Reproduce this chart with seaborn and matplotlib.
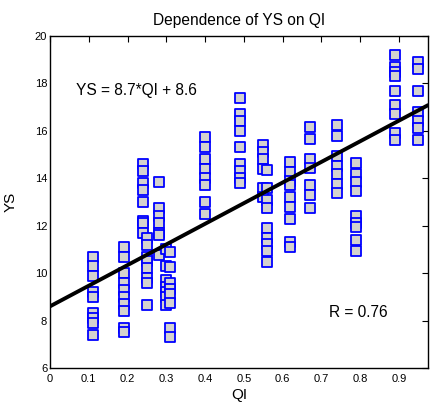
import matplotlib
matplotlib.use("Agg")
import matplotlib.pyplot as plt
import seaborn as sns
import pandas as pd
import numpy as np

# Data: QI column positions and YS values in each column
qi_levels = [0.11, 0.19, 0.24, 0.25, 0.28, 0.30, 0.31, 0.40, 0.49, 0.55, 0.56,
             0.62, 0.67, 0.74, 0.79, 0.89, 0.95]
ys_011 = [10.7, 10.3, 9.9, 9.2, 9.0, 8.3, 8.1, 7.9, 7.4]
ys_019 = [11.1, 10.7, 10.0, 9.6, 9.3, 9.0, 8.7, 8.4, 7.7, 7.5]
ys_024 = [14.6, 14.3, 13.8, 13.5, 13.0, 12.2, 12.1, 11.7]
ys_025 = [11.5, 11.2, 10.7, 10.5, 10.2, 9.8, 9.6, 8.65]
ys_028 = [13.85, 12.75, 12.4, 12.1, 11.7, 11.6, 10.75]
ys_030 = [11.0, 10.3, 9.7, 9.4, 9.2, 9.0, 8.65]
ys_031 = [10.9, 10.25, 9.6, 9.35, 9.1, 8.75, 7.7, 7.3]
ys_040 = [15.75, 15.3, 14.8, 14.4, 14.0, 13.7, 13.0, 12.5]
ys_049 = [17.4, 16.7, 16.4, 16.0, 15.3, 14.6, 14.3, 14.0, 13.8]
ys_055 = [15.4, 15.1, 14.8, 14.4, 13.6, 13.2]
ys_056 = [14.35, 13.6, 13.1, 12.75, 11.9, 11.5, 11.25, 10.95, 10.45]
ys_062 = [14.7, 14.25, 13.9, 13.7, 13.2, 12.8, 12.3, 11.3, 11.1]
ys_067 = [16.15, 15.65, 14.8, 14.45, 13.7, 13.3, 12.75]
ys_074 = [16.25, 15.8, 14.95, 14.5, 14.2, 13.75, 13.4]
ys_079 = [14.65, 14.2, 13.85, 13.45, 12.4, 12.1, 11.95, 11.4, 10.95]
ys_089 = [19.2, 18.7, 18.5, 18.3, 17.7, 17.1, 16.7, 15.9, 15.6]
ys_095 = [18.9, 18.6, 17.7, 16.8, 16.4, 16.1, 15.6]

ys_columns = [ys_011, ys_019, ys_024, ys_025, ys_028, ys_030, ys_031, ys_040,
              ys_049, ys_055, ys_056, ys_062, ys_067, ys_074, ys_079, ys_089, ys_095]

fit_slope = 8.7
fit_intercept = 8.6
r_value = 0.76

rows = []
for q, col in zip(qi_levels, ys_columns):
    for v in col:
        rows.append({"QI": q, "YS": v})
df = pd.DataFrame(rows)

line_x = [0.0, 0.975]
line_df = pd.DataFrame({"QI": line_x,
                        "YS": [fit_slope * x + fit_intercept for x in line_x]})

sns.set_style("white")
plt.rcParams['font.family'] = ['Liberation Sans', 'DejaVu Sans']
plt.rcParams['text.color'] = 'black'
plt.rcParams['axes.labelcolor'] = 'black'
plt.rcParams['xtick.color'] = 'black'
plt.rcParams['ytick.color'] = 'black'

fig = plt.figure(figsize=(4.30, 4.03), dpi=100)
ax = fig.add_axes([50 / 430, 1 - 368 / 403, 378 / 430, 332 / 403])

sns.scatterplot(data=df, x="QI", y="YS", marker="s", s=44,
                facecolor="#d4d2ce", edgecolor="#0000ff", linewidth=1.3,
                ax=ax, zorder=2)
sns.lineplot(data=line_df, x="QI", y="YS", color="black", linewidth=2.8,
             ax=ax, zorder=3)

ax.set_xlim(0, 0.975)
ax.set_ylim(6, 20)
ax.set_xticks([0, 0.1, 0.2, 0.3, 0.4, 0.5, 0.6, 0.7, 0.8, 0.9])
ax.set_xticklabels(["0", "0.1", "0.2", "0.3", "0.4", "0.5", "0.6", "0.7", "0.8", "0.9"])
ax.set_yticks([6, 8, 10, 12, 14, 16, 18, 20])
ax.tick_params(direction="in", length=4, width=0.8, labelsize=8,
               colors="black", labelcolor="black")
ax.tick_params(axis="x", top=True, pad=4)
ax.tick_params(axis="y", right=True, pad=2)
for sp in ax.spines.values():
    sp.set_color("black")
    sp.set_linewidth(1.0)

ax.set_xlabel("QI", fontsize=11, labelpad=3, color="black")
ax.set_ylabel("YS", fontsize=11, labelpad=12, color="black")
ax.set_title("Dependence of YS on QI", fontsize=11.2, pad=8, color="black")

ax.text(0.067, 17.7, f"YS = {fit_slope}*QI + {fit_intercept}", fontsize=11.2,
        va="center", ha="left", color="black")
ax.text(0.72, 8.36, f"R = {r_value}", fontsize=11.2, va="center", ha="left",
        color="black")

fig.savefig("out.png", dpi=100)
